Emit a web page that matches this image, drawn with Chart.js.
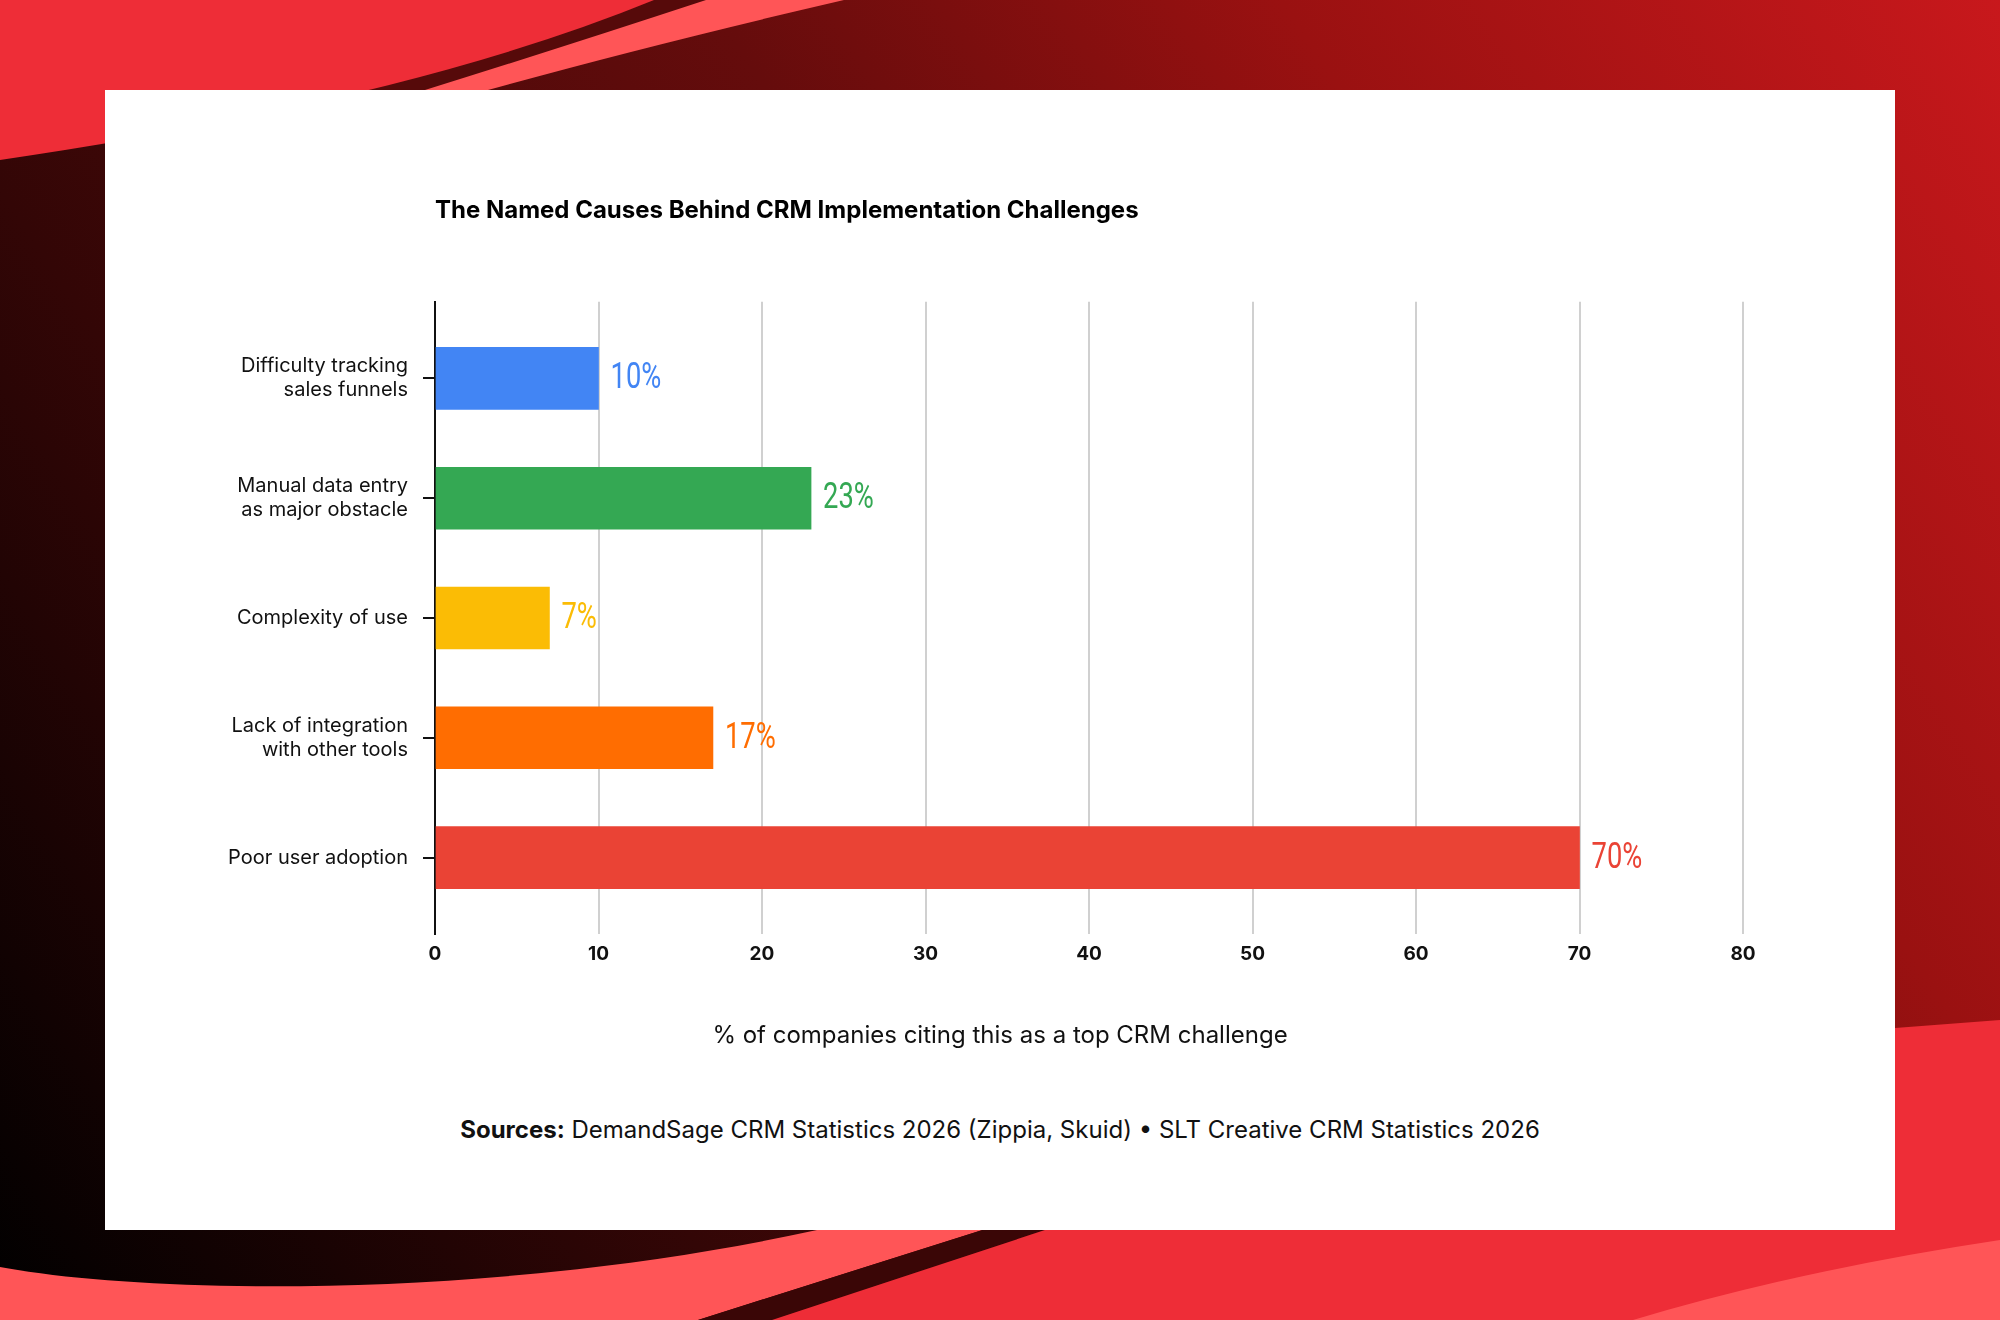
<!DOCTYPE html>
<html lang="en">
<head>
    <meta charset="UTF-8">
    <title>The Named Causes Behind CRM Implementation Challenges</title>
    <style>
        html, body {
            margin: 0;
            padding: 0;
        }
        body {
            width: 2000px;
            height: 1320px;
            position: relative;
            overflow: hidden;
            font-family: Inter, "Noto Sans", sans-serif;
        }
        #bg {
            position: absolute;
            left: 0;
            top: 0;
        }
        .card {
            position: absolute;
            left: 105px;
            top: 90px;
            width: 1790px;
            height: 1140px;
            background: #fff;
        }
        .chart-box {
            position: absolute;
            left: 0;
            top: 0;
            width: 1790px;
            height: 980px;
        }
        .caption {
            position: absolute;
            left: 0;
            top: 929px;
            width: 100%;
            text-align: center;
            font-size: 24px;
            line-height: 32px;
            color: #111;
        }
        .sources {
            position: absolute;
            left: 0;
            top: 1024px;
            width: 100%;
            text-align: center;
            font-size: 24px;
            line-height: 32px;
            color: #111;
        }
    </style>
</head>
<body>
    <!-- background swooshes -->
    <svg id="bg" width="2000" height="1320" viewBox="0 0 2000 1320">
        <defs>
            <linearGradient id="base" gradientUnits="userSpaceOnUse" x1="0" y1="1320" x2="2000" y2="0">
                <stop offset="0" stop-color="#000000"/>
                <stop offset="0.26" stop-color="#330606"/>
                <stop offset="0.55" stop-color="#650c0c"/>
                <stop offset="0.75" stop-color="#9a1111"/>
                <stop offset="1" stop-color="#c8181c"/>
            </linearGradient>
        </defs>
        <rect width="2000" height="1320" fill="url(#base)"/>
        <path d="M0,0 H844 Q650,45 488,90 L420,130 L150,200 L150,100 Z" fill="#ff5557"/>
        <path d="M0,0 H706 Q560,48 425,90 L380,130 L150,200 L150,100 Z" fill="#560a0a"/>
        <path d="M0,0 H654 Q410,100 0,160 Z" fill="#ee2d37"/>
        <path d="M0,1267 C150,1295 500,1300 817,1230 L840,1200 L1077,1200 L698,1320 L0,1320 Z" fill="#ff5557"/>
        <path d="M698,1320 L1077,1200 L1136,1200 L772,1320 Z" fill="#3a0606"/>
        <path d="M772,1320 L1136,1200 L1895,1200 L1895,1028 L2000,1020 L2000,1320 Z" fill="#ee2d37"/>
        <path d="M1633,1320 Q1800,1270 2000,1240 L2000,1320 Z" fill="#ff5557"/>
    </svg>

    <div class="card">
        <div class="chart-box">
            <canvas id="crmChart"></canvas>
        </div>
        <div class="caption" id="caption"></div>
        <div class="sources"><b>Sources:</b> DemandSage CRM Statistics 2026 (Zippia, Skuid) • SLT Creative CRM Statistics 2026</div>
    </div>

    <script src="https://cdn.jsdelivr.net/npm/chart.js"></script>
    <script>
        const chartTitle = 'The Named Causes Behind CRM Implementation Challenges';
        const axisCaption = '% of companies citing this as a top CRM challenge';

        const categories = [
            ['Difficulty tracking', 'sales funnels'],
            ['Manual data entry', 'as major obstacle'],
            ['Complexity of use'],
            ['Lack of integration', 'with other tools'],
            ['Poor user adoption']
        ];
        const values = [10, 23, 7, 17, 70];
        const barColors = ['#4285f4', '#34a853', '#fbbc05', '#ff6d01', '#ea4335'];
        const xTickValues = [0, 10, 20, 30, 40, 50, 60, 70, 80];

        // x axis caption sits centred on the card, not on the plot
        document.getElementById('caption').textContent = axisCaption;

        // percentage labels at the end of each bar
        const valueLabels = {
            id: 'valueLabels',
            afterDatasetsDraw(chart) {
                const ctx = chart.ctx;
                const meta = chart.getDatasetMeta(0);
                ctx.save();
                ctx.font = '400 36px Roboto';
                ctx.textBaseline = 'middle';
                ctx.textAlign = 'left';
                meta.data.forEach((bar, i) => {
                    ctx.fillStyle = barColors[i];
                    ctx.save();
                    ctx.translate(bar.x + 12, bar.y + 1);
                    ctx.scale(0.76, 1);
                    ctx.fillText(values[i] + '%', 0, 0);
                    ctx.restore();
                });
                ctx.restore();
            }
        };

        const ctx = document.getElementById('crmChart').getContext('2d');
        new Chart(ctx, {
            type: 'bar',
            data: {
                datasets: [{
                    data: values.map((v, i) => ({ x: v, y: i })),
                    backgroundColor: barColors,
                    borderWidth: 0,
                    barThickness: 62
                }]
            },
            options: {
                indexAxis: 'y',
                responsive: true,
                maintainAspectRatio: false,
                animation: false,
                devicePixelRatio: 1,
                layout: {
                    padding: { left: 0, right: 152, top: 0, bottom: 95 }
                },
                plugins: {
                    legend: { display: false },
                    tooltip: { enabled: false },
                    title: {
                        display: true,
                        text: chartTitle,
                        align: 'start',
                        fullSize: false,
                        color: '#000',
                        font: { family: 'Inter', size: 24, weight: '700' },
                        padding: { top: 106, bottom: 77 }
                    }
                },
                scales: {
                    x: {
                        type: 'linear',
                        position: 'bottom',
                        min: 0,
                        max: 80,
                        afterBuildTicks: (scale) => {
                            scale.ticks = xTickValues.map(v => ({ value: v }));
                        },
                        grid: {
                            color: (c) => c.tick && c.tick.value === 0 ? 'rgba(0,0,0,0)' : '#d0d0d0',
                            lineWidth: 2,
                            drawTicks: false
                        },
                        border: { display: false },
                        ticks: {
                            color: '#111',
                            padding: 9,
                            font: { family: 'Inter', size: 19, weight: '700' }
                        }
                    },
                    y: {
                        type: 'linear',
                        position: 'left',
                        reverse: true,
                        offset: false,
                        min: -0.64,
                        max: 4.64,
                        afterBuildTicks: (scale) => {
                            scale.ticks = categories.map((c, i) => ({ value: i }));
                        },
                        afterFit: (scale) => {
                            scale.width = 330;
                        },
                        grid: {
                            offset: false,
                            drawOnChartArea: false,
                            drawTicks: true,
                            tickLength: 12,
                            color: '#111',
                            lineWidth: 2
                        },
                        border: { display: true, color: '#111', width: 2 },
                        ticks: {
                            color: '#111',
                            padding: 15,
                            autoSkip: false,
                            font: { family: 'Inter', size: 20, weight: '400', lineHeight: 1.2 },
                            callback: (value) => categories[value] || ''
                        }
                    }
                }
            },
            plugins: [valueLabels]
        });
    </script>
</body>
</html>
